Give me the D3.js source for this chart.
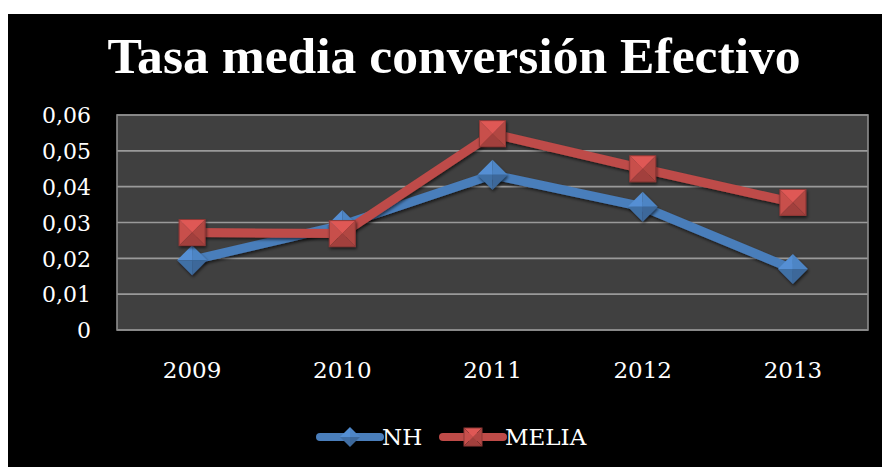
<!DOCTYPE html>
<html>
<head>
<meta charset="utf-8">
<script src="https://cdn.jsdelivr.net/npm/d3@7"></script>
<style>
  body { margin: 0; background: #fff; }
  svg { display: block; }
  text { font-family: "DejaVu Serif", "Liberation Serif", serif; fill: #fff; }
  .title { font-family: "Liberation Serif", "DejaVu Serif", serif; }
</style>
</head>
<body>
<svg width="882" height="467"></svg>
<script>
// chart data
const years = ['2009', '2010', '2011', '2012', '2013'];
const nhValues = [0.0195, 0.0293, 0.0433, 0.0344, 0.017];
const meliaValues = [0.0272, 0.0269, 0.0548, 0.045, 0.0356];
const yTicks = [0, 0.01, 0.02, 0.03, 0.04, 0.05, 0.06];
const seriesNames = ['NH', 'MELIA'];

const svg = d3.select('svg');
const W = 882, H = 467;

// black chart frame
svg.append('rect').attr('x', 8).attr('y', 14).attr('width', W - 8).attr('height', H - 14).attr('fill', '#000');

const defs = svg.append('defs');
const sh = defs.append('filter').attr('id', 'shadow').attr('x', '-20%').attr('y', '-20%').attr('width', '140%').attr('height', '160%');
sh.append('feDropShadow').attr('dx', 1).attr('dy', 2).attr('stdDeviation', 1.5).attr('flood-color', '#000').attr('flood-opacity', 0.6);

// title
const title = svg.append('text')
  .attr('class', 'title')
  .attr('x', 454).attr('y', 73)
  .attr('text-anchor', 'middle')
  .style('font-weight', 'bold')
  .style('font-size', '44px')
  .text('Tasa media conversión Efectivo');
const tw = title.node().getComputedTextLength();
title.style('font-size', (44 * 693 / tw).toFixed(1) + 'px');

const plot = { left: 117, right: 868, top: 115, bottom: 330 };

const x = d3.scaleBand().domain(years).range([plot.left, plot.right]);
const y = d3.scaleLinear().domain([0, 0.06]).range([plot.bottom, plot.top]);
const cx = d => x(d) + x.bandwidth() / 2;

// plot background
svg.append('rect')
  .attr('x', plot.left).attr('y', plot.top)
  .attr('width', plot.right - plot.left).attr('height', plot.bottom - plot.top)
  .attr('fill', '#404040');

// gridlines
svg.append('g')
  .selectAll('line')
  .data(yTicks)
  .join('line')
  .attr('x1', plot.left).attr('x2', plot.right)
  .attr('y1', d => y(d)).attr('y2', d => y(d))
  .attr('stroke', '#9a9a9a').attr('stroke-width', 1.6);

svg.append('rect')
  .attr('x', plot.left).attr('y', plot.top)
  .attr('width', plot.right - plot.left).attr('height', plot.bottom - plot.top)
  .attr('fill', 'none').attr('stroke', '#8c8c8c').attr('stroke-width', 1.6);

// axes
const fmt = d => d === 0 ? '0' : d3.format('.2f')(d).replace('.', ',');
const yAxis = svg.append('g')
  .attr('transform', `translate(${plot.left - 26},0)`)
  .call(d3.axisLeft(y).tickValues(yTicks).tickFormat(fmt).tickSize(0));
yAxis.select('.domain').remove();
yAxis.selectAll('text').attr('x', 0).attr('dy', '0.35em').style('font-size', '22px').attr('fill', '#fff');

const xAxis = svg.append('g')
  .attr('transform', `translate(0,${plot.bottom})`)
  .call(d3.axisBottom(x).tickSize(0));
xAxis.select('.domain').remove();
xAxis.selectAll('text').attr('y', 48).attr('dy', 0).style('font-size', '23px').attr('fill', '#fff');

// markers
function square(g, s, base) {
  const c = d3.color(base);
  const faces = [
    { p: [[-s, -s], [s, -s], [0, 0]], col: c.brighter(0.45) },
    { p: [[-s, -s], [-s, s], [0, 0]], col: c.brighter(0.15) },
    { p: [[s, -s], [s, s], [0, 0]], col: c.darker(0.2) },
    { p: [[-s, s], [s, s], [0, 0]], col: c.darker(0.45) }
  ];
  faces.forEach(f => g.append('path').attr('d', 'M' + f.p.join('L') + 'Z').attr('fill', f.col));
  g.append('rect').attr('x', -s).attr('y', -s).attr('width', 2 * s).attr('height', 2 * s)
    .attr('fill', 'none').attr('stroke', c.darker(0.8)).attr('stroke-width', 1);
}
function diamond(g, s, base) {
  const c = d3.color(base);
  const faces = [
    { p: [[-s, 0], [0, -s], [0, 0]], col: c.brighter(0.35) },
    { p: [[0, -s], [s, 0], [0, 0]], col: c.brighter(0.15) },
    { p: [[-s, 0], [0, s], [0, 0]], col: c.darker(0.35) },
    { p: [[0, s], [s, 0], [0, 0]], col: c.darker(0.55) }
  ];
  faces.forEach(f => g.append('path').attr('d', 'M' + f.p.join('L') + 'Z').attr('fill', f.col));
}

const series = [
  { name: seriesNames[0], values: nhValues, color: '#4a7ebb', marker: diamond, size: 15 },
  { name: seriesNames[1], values: meliaValues, color: '#be4b48', marker: square, size: 13 }
];

const line = d3.line().x((d, i) => cx(years[i])).y(d => y(d));

series.forEach(s => {
  const g = svg.append('g');
  g.append('path')
    .datum(s.values)
    .attr('d', line)
    .attr('fill', 'none')
    .attr('stroke', s.color)
    .attr('stroke-width', 9)
    .attr('stroke-linejoin', 'round')
    .attr('filter', 'url(#shadow)');
  s.values.forEach((v, i) => {
    const m = g.append('g').attr('transform', `translate(${cx(years[i])},${y(v)})`).attr('filter', 'url(#shadow)');
    s.marker(m, s.size, s.color);
  });
});

// legend
const legendX = [320, 443];
series.forEach((s, i) => {
  const g = svg.append('g').attr('transform', `translate(${legendX[i]},437)`);
  g.append('line').attr('x1', 0).attr('x2', 60).attr('y1', 0).attr('y2', 0)
    .attr('stroke', s.color).attr('stroke-width', 8).attr('stroke-linecap', 'round');
  const m = g.append('g').attr('transform', 'translate(30,0)');
  s.marker(m, i === 0 ? 10 : 9, s.color);
  g.append('text').attr('x', 62).attr('y', 0).attr('dy', '0.35em').style('font-size', '23px').text(s.name);
});
</script>
</body>
</html>
